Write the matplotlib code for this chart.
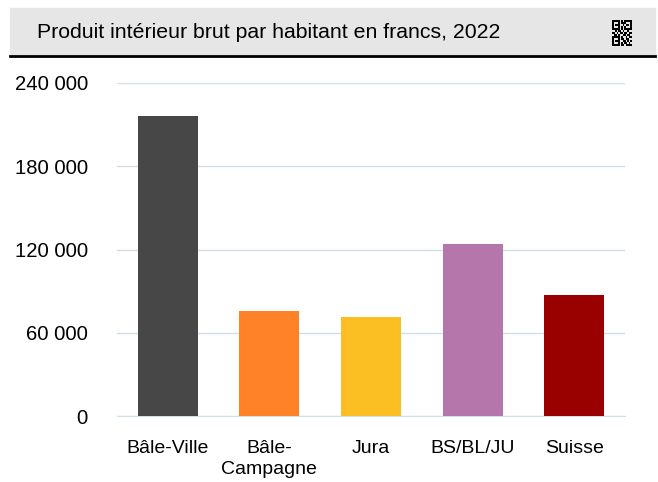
import matplotlib.pyplot as plt
from matplotlib.patches import Rectangle
from matplotlib.ticker import FuncFormatter

plt.rcParams["font.family"] = ["Liberation Sans", "DejaVu Sans"]

categories = ["Bâle-Ville", "Bâle-\nCampagne", "Jura", "BS/BL/JU", "Suisse"]
values = [216000, 76000, 71500, 124000, 87000]
colors = ["#474747", "#FF8229", "#FBBF24", "#B576AB", "#990000"]
yticks = [0, 60000, 120000, 180000, 240000]
title = "Produit intérieur brut par habitant en francs, 2022"

W, H = 658, 482
fig = plt.figure(figsize=(W / 100, H / 100), dpi=100)

# header band
fig.patches.append(Rectangle((10 / W, 1 - 55 / H), 645 / W, 47 / H,
                             transform=fig.transFigure, color="#E6E6E6", zorder=0))
fig.add_artist(plt.Line2D([10 / W, 655 / W], [1 - 56 / H, 1 - 56 / H],
                          transform=fig.transFigure, color="black", lw=2))
fig.text(37 / W, 1 - 32 / H, title, fontsize=15.3, va="center", ha="left")

# small QR-like icon
qr = [
    "1111101011111",
    "1000101110001",
    "1011100101101",
    "1000101010001",
    "1111101011111",
    "0010110100100",
    "1101011011011",
    "0110100110110",
    "1111101001011",
    "1000101101100",
    "1011100110101",
    "1000101011010",
    "1111101101111",
]
qx, qy, cw, ch_ = 612, 20, 20 / 13, 26 / 13
for r, row in enumerate(qr):
    for c, ch in enumerate(row):
        if ch == "1":
            fig.patches.append(Rectangle(((qx + c * cw) / W, 1 - (qy + (r + 1) * ch_) / H),
                                         cw / W, ch_ / H, transform=fig.transFigure,
                                         color="black", lw=0))

ax = fig.add_axes([117 / W, 1 - 416 / H, 508 / W, 333 / H])
x = range(len(categories))
ax.bar(x, values, width=0.59, color=colors, zorder=3)
ax.set_xlim(-0.5, len(categories) - 0.5)
ax.set_ylim(0, 240000)
ax.set_yticks(yticks)
ax.yaxis.set_major_formatter(FuncFormatter(lambda v, p: f"{int(v):,}".replace(",", " ")))
ax.set_xticks(list(x))
ax.set_xticklabels(categories, fontsize=14, linespacing=1.3)
ax.tick_params(axis="y", labelsize=14.6, length=0, pad=21)
ax.tick_params(axis="x", length=0, pad=17)
ax.grid(axis="y", color="#D3DFE8", lw=1, zorder=0)
for s in ["top", "right", "left"]:
    ax.spines[s].set_visible(False)
ax.spines["bottom"].set_color("#D3DFE8")

fig.savefig("out.png", dpi=100)
